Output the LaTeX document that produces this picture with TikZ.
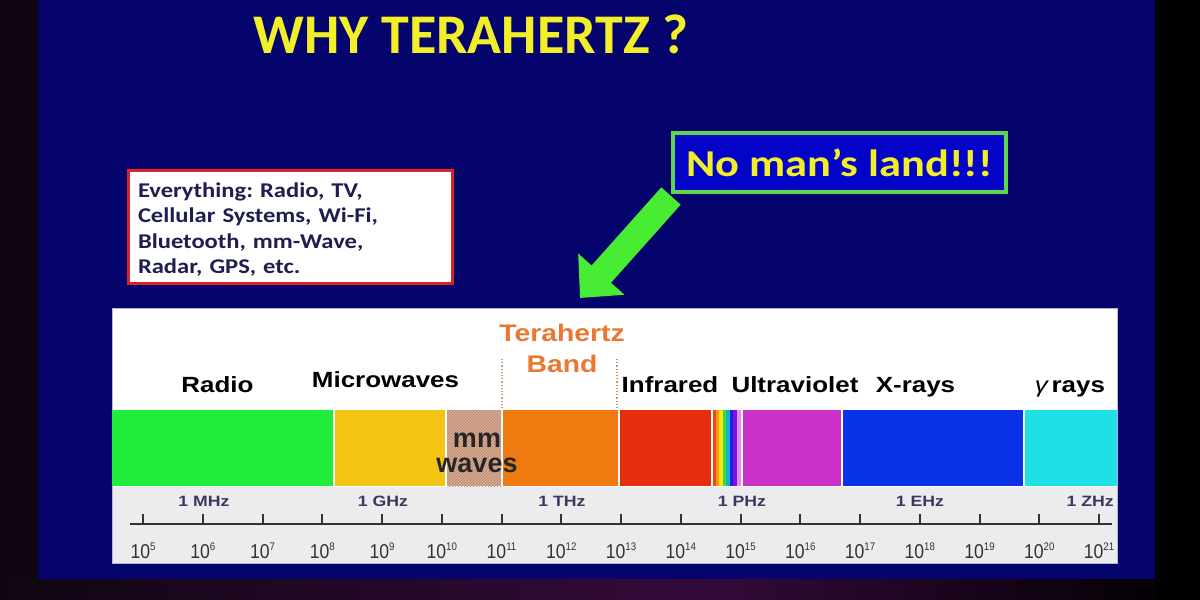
\documentclass[tikz,border=0pt]{standalone}
\usepackage{fontspec}
\setmainfont{Liberation Sans}
\newfontfamily\calfont{Carlito}
\newfontfamily\calw[FakeStretch=1.17]{Carlito}
\newfontfamily\arialw[FakeStretch=1.18]{Liberation Sans}
\newfontfamily\arialn[FakeStretch=0.88]{Liberation Sans}
\usetikzlibrary{arrows.meta,patterns}
\definecolor{outerdark}{RGB}{16,6,18}
\definecolor{slideblue}{RGB}{4,4,108}
\definecolor{titleyellow}{RGB}{242,238,40}
\definecolor{boxred}{RGB}{222,32,40}
\definecolor{boxtext}{RGB}{30,30,80}
\definecolor{nmlgreen}{RGB}{90,214,80}
\definecolor{nmlfill}{RGB}{4,4,200}
\definecolor{arrowgreen}{RGB}{72,236,50}
\definecolor{bgreen}{RGB}{34,236,60}
\definecolor{byellow}{RGB}{244,196,20}
\definecolor{btan}{RGB}{218,172,148}
\definecolor{btanline}{RGB}{180,130,110}
\definecolor{borange}{RGB}{238,122,16}
\definecolor{bred}{RGB}{230,45,12}
\definecolor{bmagenta}{RGB}{204,50,200}
\definecolor{bblue}{RGB}{10,50,232}
\definecolor{bcyan}{RGB}{30,225,230}
\definecolor{rb1}{RGB}{240,70,20}
\definecolor{rb2}{RGB}{250,150,20}
\definecolor{rb3}{RGB}{245,230,20}
\definecolor{rb4}{RGB}{60,220,60}
\definecolor{rb5}{RGB}{20,180,200}
\definecolor{rb6}{RGB}{30,30,230}
\definecolor{rb7}{RGB}{120,20,220}
\definecolor{rb8}{RGB}{230,140,230}
\definecolor{paneledge}{RGB}{180,180,220}
\definecolor{thzorange}{RGB}{232,120,50}
\definecolor{axisgray}{RGB}{236,236,238}
\definecolor{tickdark}{RGB}{50,50,50}
\definecolor{freqlab}{RGB}{58,58,96}
\definecolor{dotcol}{RGB}{205,150,110}
\definecolor{bottompurple}{RGB}{52,10,58}
\tikzset{
  bandlab/.style={font=\arialw\bfseries\fontsize{22}{26}\selectfont, text=black, anchor=base, inner sep=0},
  thzlab/.style={font=\arialw\bfseries\fontsize{24}{26}\selectfont, text=thzorange, anchor=base, inner sep=0},
  freqtxt/.style={font=\arialw\bfseries\fontsize{15}{18}\selectfont, text=freqlab, anchor=base, inner sep=0},
  ticklab/.style={font=\arialn\fontsize{20}{22}\selectfont, text=tickdark, anchor=base, inner sep=0},
  tickmark/.style={draw=tickdark, line width=2},
  dotline/.style={draw=dotcol, dotted, line width=1.2},
}
\begin{document}
\frenchspacing
\begin{tikzpicture}[x=1pt,y=-1pt]
\useasboundingbox (0,0) rectangle (1200,600);
% frame
\fill[outerdark] (0,0) rectangle (1200,600);
\shade[left color=outerdark, right color=bottompurple] (0,579) rectangle (700,600);
\shade[left color=bottompurple, right color=black] (700,579) rectangle (1200,600);
\fill[black!90!outerdark] (1155,0) rectangle (1200,600);
\fill[slideblue] (38,0) rectangle (1155,579);
% title
\node[font=\calfont\bfseries\fontsize{56}{60}\selectfont, text=titleyellow, anchor=base, inner sep=0] (title) at (471,53) {WHY TERAHERTZ ?};
% red box
\node[draw=boxred, line width=3, fill=white, minimum width=324, minimum height=113, inner sep=0] (redbox) at (290,226.5) {};
\node[text width=304, inner sep=0, align=left,
      font=\calw\bfseries\fontsize{21}{25.5}\selectfont, text=boxtext] (everything) at ([yshift=-3pt]redbox.center)
  {Everything: Radio, TV,\\Cellular Systems, Wi-Fi,\\Bluetooth, mm-Wave,\\Radar, GPS, etc.};
% no man's land
\node[draw=nmlgreen, line width=4, fill=nmlfill, minimum width=333, minimum height=59, inner sep=0,
      font=\calw\bfseries\fontsize{38}{40}\selectfont, text=titleyellow] (nml) at (839.5,162.5) {No man’s land!!!};
\coordinate (atail) at (671,196);
\coordinate (ahead) at (580,298);
\draw[arrowgreen, line width=26, -{Triangle[length=32,width=60]}] (atail) -- (ahead);
% spectrum panel
\fill[white] (112,308) rectangle (1117,563);
\fill[axisgray] (112,487) rectangle (1117,563);
\draw[draw=paneledge, line width=0.8] (112,308) rectangle (1117,563);
% bands
\fill[bgreen] (112,410) rectangle (333,486);
\fill[byellow] (335,410) rectangle (445,486);
\fill[btan] (447,410) rectangle (501,486);
\fill[pattern=north east lines, pattern color=btanline] (447,410) rectangle (501,486);
\fill[borange] (503,410) rectangle (618,486);
\fill[bred] (620,410) rectangle (711,486);
\fill[rb1] (713,410) rectangle (716,486);
\fill[rb2] (716,410) rectangle (719,486);
\fill[rb3] (719,410) rectangle (722.5,486);
\fill[rb4] (722.5,410) rectangle (726,486);
\fill[rb5] (726,410) rectangle (729.5,486);
\fill[rb6] (729.5,410) rectangle (733,486);
\fill[rb7] (733,410) rectangle (737,486);
\fill[rb8] (737,410) rectangle (741,486);
\fill[bmagenta] (743,410) rectangle (841,486);
\fill[bblue] (843,410) rectangle (1023,486);
\fill[bcyan] (1025,410) rectangle (1117,486);
% THz boundaries
\draw[dotline] (502,359) -- (502,410);
\draw[dotline] (617,359) -- (617,410);
% band labels
\node[bandlab] (radio) at (217.5,392) {Radio};
\node[bandlab] (micro) at (385.5,387) {Microwaves};
\node[thzlab] (thz1) at (562,341) {Terahertz};
\node[thzlab] (thz2) at (562,372) {Band};
\node[bandlab] (ir) at (670,392) {Infrared};
\node[bandlab] (uv) at (795,392) {Ultraviolet};
\node[bandlab] (xr) at (915.5,392) {X-rays};
\node[bandlab] (gr) at (1070,392) {{\mdseries\itshape γ}\,rays};
\node[font=\bfseries\fontsize{27}{25}\selectfont, text=black!85, align=center, inner sep=0, anchor=base] (mm) at (477,472) {mm\\waves};
% axis
\draw[draw=tickdark, line width=1.8] (130,524) -- (1112,524);
\foreach \n in {5,...,21}{
  \pgfmathsetmacro\xx{143+(\n-5)*59.75}
  \draw[tickmark] (\xx,514) -- (\xx,524);
  \node[ticklab] (l\n) at (\xx,558) {10\raisebox{8pt}{\fontsize{11}{11}\selectfont\n}};
}
\node[freqtxt] (mhz) at (204,506) {1 MHz};
\node[freqtxt] (ghz) at (383,506) {1 GHz};
\node[freqtxt] (thz) at (562,506) {1 THz};
\node[freqtxt] (phz) at (742,506) {1 PHz};
\node[freqtxt] (ehz) at (920,506) {1 EHz};
\node[freqtxt, anchor=base east] (zhz) at (1114,506) {1 ZHz};
\end{tikzpicture}
\end{document}
